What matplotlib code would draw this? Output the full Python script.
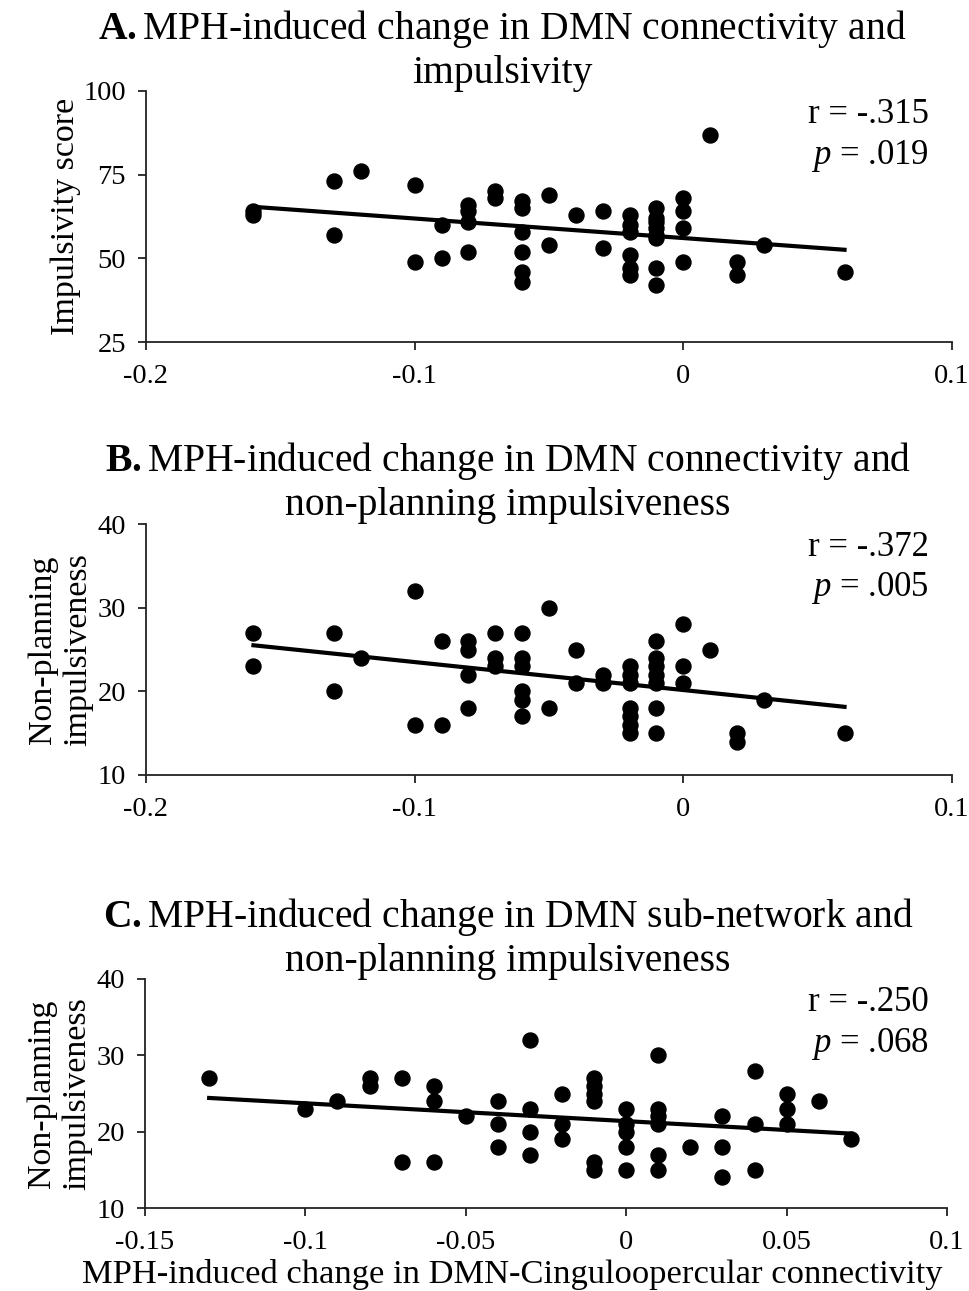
import numpy as np
import matplotlib
matplotlib.use('Agg')
import matplotlib.pyplot as plt

# Dados
# Painel A: conectividade DMN x impulsividade
xA = [-0.16, -0.16, -0.13, -0.13, -0.12, -0.10, -0.10, -0.09, -0.09,
      -0.08, -0.08, -0.08, -0.08, -0.07, -0.07,
      -0.06, -0.06, -0.06, -0.06, -0.06, -0.06, -0.05, -0.05, -0.04, -0.03, -0.03,
      -0.02, -0.02, -0.02, -0.02, -0.02, -0.02,
      -0.01, -0.01, -0.01, -0.01, -0.01, -0.01, -0.01, -0.01,
      0.0, 0.0, 0.0, 0.0, 0.01, 0.02, 0.02, 0.03, 0.06]
yA = [63, 64, 73, 57, 76, 72, 49, 60, 50,
      66, 64, 61, 52, 70, 68,
      67, 65, 58, 52, 46, 43, 69, 54, 63, 64, 53,
      63, 60, 58, 51, 47, 45,
      65, 62, 61, 59, 57, 56, 47, 42,
      68, 64, 59, 49, 87, 49, 45, 54, 46]

# Painel B: conectividade DMN x non-planning
xB = [-0.16, -0.16, -0.13, -0.13, -0.12, -0.10, -0.10, -0.09, -0.09,
      -0.08, -0.08, -0.08, -0.08, -0.07, -0.07, -0.07,
      -0.06, -0.06, -0.06, -0.06, -0.06, -0.06, -0.05, -0.05,
      -0.04, -0.04, -0.03, -0.03,
      -0.02, -0.02, -0.02, -0.02, -0.02, -0.02, -0.02,
      -0.01, -0.01, -0.01, -0.01, -0.01, -0.01, -0.01,
      0.0, 0.0, 0.0, 0.01, 0.02, 0.02, 0.03, 0.06]
yB = [27, 23, 27, 20, 24, 32, 16, 26, 16,
      26, 25, 22, 18, 27, 24, 23,
      27, 24, 23, 20, 19, 17, 30, 18,
      25, 21, 22, 21,
      23, 22, 21, 18, 17, 16, 15,
      26, 24, 23, 22, 21, 18, 15,
      28, 23, 21, 25, 15, 14, 19, 15]

# Painel C: sub-rede DMN x non-planning
xC = [-0.13, -0.10, -0.09, -0.08, -0.08, -0.07, -0.07, -0.06, -0.06, -0.06,
      -0.05, -0.04, -0.04, -0.04, -0.03, -0.03, -0.03, -0.03,
      -0.02, -0.02, -0.02, -0.01, -0.01, -0.01, -0.01, -0.01, -0.01,
      0.0, 0.0, 0.0, 0.0, 0.0,
      0.01, 0.01, 0.01, 0.01, 0.01, 0.01, 0.02, 0.03, 0.03, 0.03,
      0.04, 0.04, 0.04, 0.05, 0.05, 0.05, 0.06, 0.07]
yC = [27, 23, 24, 27, 26, 27, 16, 26, 24, 16,
      22, 24, 21, 18, 32, 23, 20, 17,
      25, 21, 19, 27, 26, 25, 24, 16, 15,
      23, 21, 20, 18, 15,
      30, 23, 22, 21, 17, 15, 18, 22, 18, 14,
      28, 21, 15, 25, 23, 21, 24, 19]

# titulos em duas linhas (linha 1, linha 2)
titulos = [(r'$\mathbf{A.}$' + 'MPH-induced change in DMN connectivity and', 'impulsivity'),
           (r'$\mathbf{B.}$' + 'MPH-induced change in DMN connectivity and', 'non-planning impulsiveness'),
           (r'$\mathbf{C.}$' + 'MPH-induced change in DMN sub-network and', 'non-planning impulsiveness')]
ylabels = ['Impulsivity score', 'Non-planning\nimpulsiveness', 'Non-planning\nimpulsiveness']
stats = ['r = -.315\n$p$ = .019', 'r = -.372\n$p$ = .005', 'r = -.250\n$p$ = .068']
xticksAB = [-0.2, -0.1, 0, 0.1]
xticksC = [-0.15, -0.1, -0.05, 0, 0.05, 0.1]
yticksA = [25, 50, 75, 100]
yticksBC = [10, 20, 30, 40]

plt.rcParams['font.family'] = 'Liberation Serif'
plt.rcParams['mathtext.fontset'] = 'custom'
plt.rcParams['mathtext.rm'] = 'Liberation Serif'
plt.rcParams['mathtext.it'] = 'Liberation Serif:italic'
plt.rcParams['mathtext.bf'] = 'Liberation Serif:bold'

W, H = 969, 1291
fig = plt.figure(figsize=(W/100, H/100), dpi=100)

def caixa(l, t, r, b):
    return [l/W, 1-b/H, (r-l)/W, (b-t)/H]

eixos = [fig.add_axes(caixa(146, 91, 952, 342)),
         fig.add_axes(caixa(146, 524, 952, 775)),
         fig.add_axes(caixa(145, 979, 947, 1208))]
topos = [91, 524, 979]
dados = [(xA, yA), (xB, yB), (xC, yC)]

for i, ax in enumerate(eixos):
    x = np.array(dados[i][0])
    y = np.array(dados[i][1])
    ax.plot(x, y, 'o', color='black', ms=10.8, zorder=3)
    a, b = np.polyfit(x, y, 1)
    xl = np.array([x.min(), x.max()])
    ax.plot(xl, a*xl + b, '-', color='black', lw=3, zorder=2)
    for s in ['top', 'right']:
        ax.spines[s].set_visible(False)
    for s in ['left', 'bottom']:
        ax.spines[s].set_color('#222222')
        ax.spines[s].set_linewidth(1.3)
    if i < 2:
        ax.set_xlim(-0.2, 0.1)
        ax.set_xticks(xticksAB)
        ax.set_xticklabels(['%g' % v for v in xticksAB])
    else:
        ax.set_xlim(-0.15, 0.1)
        ax.set_xticks(xticksC)
        ax.set_xticklabels(['%g' % v for v in xticksC])
    if i == 0:
        ax.set_ylim(25, 100)
        ax.set_yticks(yticksA)
    else:
        ax.set_ylim(10, 40)
        ax.set_yticks(yticksBC)
    ax.tick_params(axis='both', labelsize=20.5, direction='out', length=5.5,
                   width=1.3, color='#222222')
    ax.tick_params(axis='y', pad=9)
    ax.tick_params(axis='x', pad=10)
    ax.set_ylabel(ylabels[i], fontsize=24.5, linespacing=1.2)
    # r e p no canto superior direito
    fig.text(929/W, 1-(topos[i]+7)/H, stats[i], ha='right', va='top',
             fontsize=25, linespacing=1.25)

eixos[0].yaxis.set_label_coords(-0.081, 0.5)
eixos[1].yaxis.set_label_coords(-0.066, 0.5)
eixos[2].yaxis.set_label_coords(-0.066, 0.5)

# posicao (x central, topo da linha 1) de cada titulo, em pixels
pos_tit = [(502, 8), (508, 440), (508, 896)]
for (t1, t2), (cx, ty) in zip(titulos, pos_tit):
    fig.text(cx/W, 1-ty/H, t1, ha='center', va='top', fontsize=28.5)
    fig.text(cx/W, 1-(ty+47)/H, t2, ha='center', va='top', fontsize=28.5)

fig.text(512/W, 1-1274/H, 'MPH-induced change in DMN-Cinguloopercular connectivity',
         ha='center', va='center', fontsize=24.8)

fig.savefig('out.png', dpi=100)
